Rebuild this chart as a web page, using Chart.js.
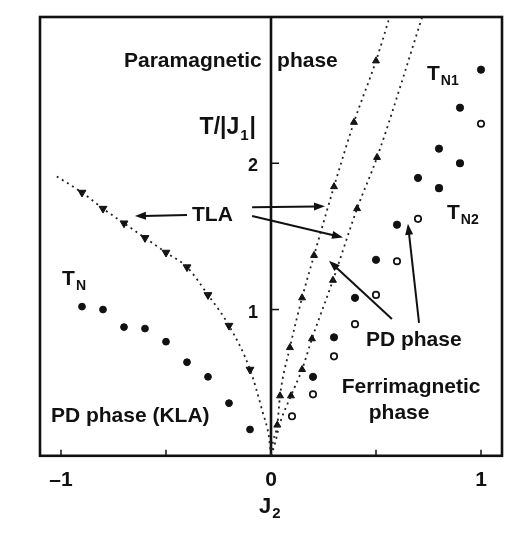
<!DOCTYPE html>
<html>
<head>
<meta charset="utf-8">
<script src="https://cdn.jsdelivr.net/npm/chart.js@4/dist/chart.umd.min.js"></script>
<style>
  html, body { margin: 0; padding: 0; background: #fff; }
  #wrap { position: relative; width: 522px; height: 553px; }
</style>
</head>
<body>
<div id="wrap"><canvas id="phase"></canvas></div>
<script>
// T_N on the J2 < 0 side (filled circles)
const tnX = [-0.9, -0.8, -0.7, -0.6, -0.5, -0.4, -0.3, -0.2, -0.1];
const tnY = [1.02, 1.00, 0.88, 0.87, 0.78, 0.64, 0.54, 0.36, 0.18];

// TLA boundary on the J2 < 0 side (down triangles) and its dotted guide
const tlaLeftX = [-0.9, -0.8, -0.7, -0.6, -0.5, -0.4, -0.3, -0.2, -0.1];
const tlaLeftY = [1.80, 1.69, 1.59, 1.49, 1.39, 1.29, 1.10, 0.89, 0.59];
const tlaLeftCurveX = [-1.02, -0.9, -0.8, -0.7, -0.6, -0.5, -0.4, -0.3, -0.2, -0.1, -0.04, -0.01, 0];
const tlaLeftCurveY = [1.91, 1.80, 1.69, 1.59, 1.49, 1.39, 1.29, 1.10, 0.89, 0.59, 0.30, 0.13, 0];

// upper TLA line for J2 > 0
const tlaUpX = [0.03, 0.043, 0.09, 0.148, 0.205, 0.30, 0.395, 0.50];
const tlaUpY = [0.21, 0.41, 0.74, 1.08, 1.37, 1.84, 2.28, 2.70];
const tlaUpCurveX = [0, 0.01, 0.03, 0.043, 0.09, 0.148, 0.205, 0.30, 0.395, 0.50, 0.565];
const tlaUpCurveY = [0, 0.10, 0.21, 0.41, 0.74, 1.08, 1.37, 1.84, 2.28, 2.70, 3.0];

// lower TLA line for J2 > 0
const tlaLowX = [0.095, 0.148, 0.195, 0.295, 0.41, 0.505];
const tlaLowY = [0.41, 0.59, 0.80, 1.20, 1.69, 2.04];
const tlaLowCurveX = [0, 0.02, 0.04, 0.095, 0.148, 0.195, 0.295, 0.41, 0.505, 0.72];
const tlaLowCurveY = [0, 0.09, 0.21, 0.41, 0.59, 0.80, 1.20, 1.69, 2.04, 3.0];

// T_N1 (filled) and T_N2 for J2 > 0
const tn1X = [1.0, 0.9, 0.8, 0.7, 0.6, 0.5, 0.4, 0.3, 0.2];
const tn1Y = [2.64, 2.38, 2.10, 1.90, 1.58, 1.34, 1.08, 0.81, 0.54];
const tn2X = [1.0, 0.9, 0.8, 0.7, 0.6, 0.5, 0.4, 0.3, 0.2, 0.1];
const tn2Y = [2.27, 2.00, 1.83, 1.62, 1.33, 1.10, 0.90, 0.68, 0.42, 0.27];

// axis ticks
const xTickValues = [-1, 0, 1];
const xMinorTicks = [-1, -0.5, 0.5, 1];
const yTickValues = [1, 2];

const FONT = '"Liberation Sans", Arial, Helvetica, sans-serif';
const INK = '#111';

const pts = (xs, ys) => xs.map((x, i) => ({ x: x, y: ys[i] }));

function guide(xs, ys) {
    return {
        data: pts(xs, ys),
        showLine: true,
        pointRadius: 0,
        borderColor: '#222',
        borderWidth: 1.8,
        borderDash: [2, 4],
        cubicInterpolationMode: 'monotone',
    };
}

function marks(xs, ys, style, radius, extra) {
    return Object.assign({
        data: pts(xs, ys),
        showLine: false,
        pointStyle: style,
        pointRadius: radius,
        pointBackgroundColor: INK,
        pointBorderColor: INK,
        pointBorderWidth: 1,
    }, extra || {});
}

// text with a subscript, e.g. T_N1
function subText(ctx, x, y, main, sub, tail, size) {
    const big = `bold ${size}px ${FONT}`;
    const small = `bold ${Math.round(size * 0.66)}px ${FONT}`;
    ctx.textAlign = 'left';
    ctx.textBaseline = 'alphabetic';
    ctx.font = big;
    ctx.fillText(main, x, y);
    let cx = x + ctx.measureText(main).width + 1;
    ctx.font = small;
    ctx.fillText(sub, cx, y + size * 0.25);
    cx += ctx.measureText(sub).width + 1;
    if (tail) {
        ctx.font = big;
        ctx.fillText(tail, cx, y);
    }
}

function arrow(ctx, x1, y1, x2, y2) {
    const a = Math.atan2(y2 - y1, x2 - x1);
    const len = 11, half = 4;
    ctx.beginPath();
    ctx.moveTo(x1, y1);
    ctx.lineTo(x2 - Math.cos(a) * len * 0.8, y2 - Math.sin(a) * len * 0.8);
    ctx.stroke();
    ctx.beginPath();
    ctx.moveTo(x2, y2);
    ctx.lineTo(x2 - Math.cos(a) * len - Math.sin(a) * half, y2 - Math.sin(a) * len + Math.cos(a) * half);
    ctx.lineTo(x2 - Math.cos(a) * len + Math.sin(a) * half, y2 - Math.sin(a) * len - Math.cos(a) * half);
    ctx.closePath();
    ctx.fill();
}

const labels = [
    { text: 'Paramagnetic', x: -0.70, y: 2.70, align: 'left' },
    { text: 'phase', x: 0.029, y: 2.70, align: 'left' },
    { text: 'TLA', x: -0.376, y: 1.646, align: 'left' },
    { text: 'PD phase (KLA)', x: -1.048, y: 0.272, align: 'left' },
    { text: 'PD phase', x: 0.452, y: 0.79, align: 'left' },
    { text: 'Ferrimagnetic', x: 0.667, y: 0.471, align: 'center' },
    { text: 'phase', x: 0.61, y: 0.292, align: 'center' },
];

const subLabels = [
    { main: 'T/|J', sub: '1', tail: '|', x: -0.34, y: 2.197, size: 23 },
    { main: 'T', sub: 'N', x: -0.995, y: 1.168, size: 21 },
    { main: 'T', sub: 'N1', x: 0.743, y: 2.568, size: 21 },
    { main: 'T', sub: 'N2', x: 0.838, y: 1.62, size: 21 },
];

const arrows = [
    [-0.40, 1.646, -0.648, 1.639],
    [-0.09, 1.699, 0.257, 1.706],
    [-0.09, 1.639, 0.343, 1.493],
    [0.576, 0.936, 0.276, 1.334],
    [0.705, 0.909, 0.652, 1.586],
];

const decor = {
    id: 'decor',
    beforeDatasetsDraw(chart) {
        const { ctx, chartArea: area, scales: { x, y } } = chart;
        const x0 = x.getPixelForValue(0);
        ctx.save();
        ctx.strokeStyle = INK;
        ctx.lineWidth = 2.6;
        ctx.strokeRect(area.left, area.top, area.right - area.left, area.bottom - area.top);
        // J2 = 0 axis
        ctx.beginPath();
        ctx.moveTo(x0, area.top);
        ctx.lineTo(x0, area.bottom);
        ctx.stroke();
        // inward ticks
        ctx.lineWidth = 1.5;
        xMinorTicks.forEach(v => {
            const px = x.getPixelForValue(v);
            ctx.beginPath();
            ctx.moveTo(px, area.bottom);
            ctx.lineTo(px, area.bottom - 6);
            ctx.stroke();
        });
        ctx.fillStyle = INK;
        ctx.font = `bold 18px ${FONT}`;
        ctx.textAlign = 'right';
        ctx.textBaseline = 'middle';
        yTickValues.forEach(v => {
            const py = y.getPixelForValue(v);
            ctx.beginPath();
            ctx.moveTo(x0, py);
            ctx.lineTo(x0 + 8, py);
            ctx.stroke();
            ctx.fillText(String(v), x0 - 13, py + 3);
        });
        ctx.restore();
    },
    afterDatasetsDraw(chart) {
        const { ctx, chartArea: area, scales: { x, y } } = chart;
        ctx.save();
        ctx.fillStyle = INK;
        ctx.strokeStyle = INK;
        ctx.lineWidth = 2;
        ctx.font = `bold 21px ${FONT}`;
        ctx.textBaseline = 'middle';
        labels.forEach(l => {
            ctx.textAlign = l.align;
            ctx.fillText(l.text, x.getPixelForValue(l.x), y.getPixelForValue(l.y));
        });
        subLabels.forEach(l => {
            subText(ctx, x.getPixelForValue(l.x), y.getPixelForValue(l.y), l.main, l.sub, l.tail, l.size);
        });
        arrows.forEach(a => {
            arrow(ctx, x.getPixelForValue(a[0]), y.getPixelForValue(a[1]),
                x.getPixelForValue(a[2]), y.getPixelForValue(a[3]));
        });
        // J2 axis title
        subText(ctx, x.getPixelForValue(0) - 12, area.bottom + 57, 'J', '2', null, 22);
        ctx.restore();
    },
};

new Chart(document.getElementById('phase'), {
    type: 'scatter',
    data: {
        datasets: [
            guide(tlaLeftCurveX, tlaLeftCurveY),
            guide(tlaUpCurveX, tlaUpCurveY),
            guide(tlaLowCurveX, tlaLowCurveY),
            marks(tnX, tnY, 'circle', 3.4),
            marks(tlaLeftX, tlaLeftY, 'triangle', 4.5, { rotation: 180 }),
            marks(tlaUpX, tlaUpY, 'triangle', 4),
            marks(tlaLowX, tlaLowY, 'triangle', 4),
            marks(tn1X, tn1Y, 'circle', 3.6),
            marks(tn2X, tn2Y, 'circle', 3.2, {
                pointBackgroundColor: tn2X.map((v, i) => (i === 1 || i === 2) ? INK : '#fff'),
                pointBorderWidth: 1.7,
            }),
        ],
    },
    options: {
        responsive: true,
        maintainAspectRatio: false,
        animation: false,
        devicePixelRatio: 1,
        layout: { padding: { left: 40, top: 17, right: 20, bottom: 56 } },
        plugins: { legend: { display: false }, tooltip: { enabled: false } },
        scales: {
            x: {
                type: 'linear',
                min: -1.1,
                max: 1.1,
                grid: { display: false },
                border: { display: false },
                afterBuildTicks: (scale) => { scale.ticks = xTickValues.map(v => ({ value: v })); },
                ticks: {
                    padding: 4,
                    maxRotation: 0,
                    autoSkip: false,
                    color: INK,
                    font: { family: FONT, size: 21, weight: 'bold' },
                    callback: (v) => v < 0 ? '\u2013' + Math.abs(v) : String(v),
                },
            },
            y: {
                type: 'linear',
                display: false,
                min: 0,
                max: 3.0,
            },
        },
    },
    plugins: [decor],
});
</script>
</body>
</html>
